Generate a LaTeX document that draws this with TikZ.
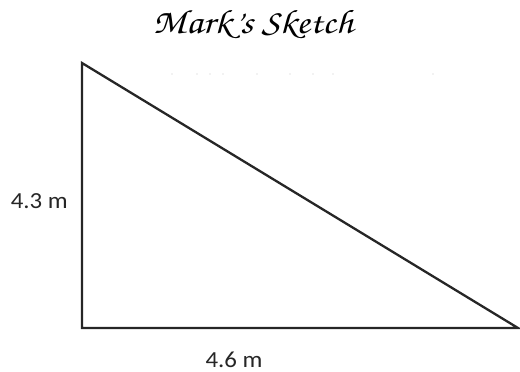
\documentclass[tikz,border=0pt]{standalone}
\usepackage{fontspec}
\setmainfont{Carlito}
\begin{document}
\begin{tikzpicture}[x=1pt,y=-1pt,
  edge/.style={draw=black!85, line width=2.3pt, line join=miter},
  lbl/.style={font=\fontsize{23}{26}\selectfont, text=black!85, inner sep=0pt, xscale=1.08},
  titlefont/.style={font=\fontencoding{T1}\fontfamily{pzc}\fontseries{mb}\fontshape{it}\fontsize{34}{38}\selectfont, inner sep=0pt, xscale=1.16},
  speck/.style={fill=black!22, draw=none}]
\useasboundingbox (0,0) rectangle (520,372);
\coordinate (A) at (82,63);
\coordinate (B) at (82,328);
\coordinate (C) at (518,328);
\draw[edge] (A) -- (B) -- (C) -- cycle;
\node[titlefont, anchor=base] (title) at (253,33) {Mark's Sketch};
\node[lbl, anchor=base east] (h) at (68,208) {4.3 m};
\node[lbl, anchor=base] (w) at (234,367) {4.6 m};
\foreach \x in {172,197,210,223,257,290,313,333,433}
  \fill[speck] (\x,74) circle (0.6);
\end{tikzpicture}
\end{document}
